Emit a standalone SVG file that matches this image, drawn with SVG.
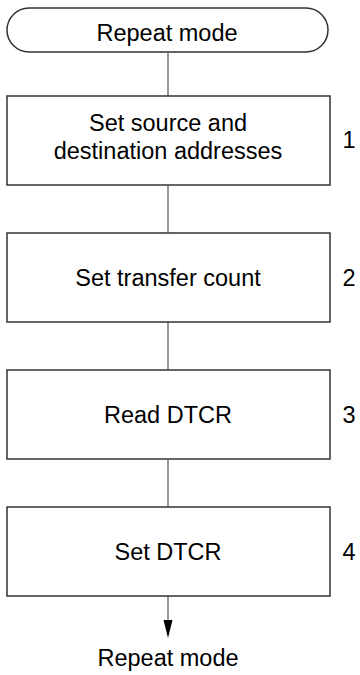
<svg xmlns="http://www.w3.org/2000/svg" width="360" height="675" viewBox="0 0 360 675">
<style>
.box{fill:#fff;stroke:#333;stroke-width:1.5}
.t{font-family:"Liberation Sans",Arial,sans-serif;font-size:23.5px;fill:#000;text-anchor:middle}
.n{font-family:"Liberation Sans",Arial,sans-serif;font-size:23.5px;fill:#000;text-anchor:middle}
.c{stroke:#777;stroke-width:1.5;fill:none}
</style>
<g id="connectors">
<line class="c" x1="168" y1="53" x2="168" y2="96"/>
<line class="c" x1="168" y1="185" x2="168" y2="233"/>
<line class="c" x1="168" y1="322" x2="168" y2="370"/>
<line class="c" x1="168" y1="459" x2="168" y2="507"/>
<line class="c" x1="168" y1="596" x2="168" y2="620"/>
<path d="M163.5,620 L172.5,620 L168,638 Z" fill="#000"/>
</g>
<g id="start">
<rect class="box" x="7" y="8" width="321" height="44" rx="22" ry="22"/>
<text class="t" x="167" y="41">Repeat mode</text>
</g>
<g id="step1">
<rect class="box" x="7" y="96" width="323" height="89"/>
<text class="t" x="168" y="131">Set source and</text>
<text class="t" x="168" y="159">destination addresses</text>
<text class="n" x="349" y="148">1</text>
</g>
<g id="step2">
<rect class="box" x="7" y="233" width="323" height="89"/>
<text class="t" x="168" y="286">Set transfer count</text>
<text class="n" x="349" y="286">2</text>
</g>
<g id="step3">
<rect class="box" x="7" y="370" width="323" height="89"/>
<text class="t" x="168" y="423">Read DTCR</text>
<text class="n" x="349" y="423">3</text>
</g>
<g id="step4">
<rect class="box" x="7" y="507" width="323" height="89"/>
<text class="t" x="168" y="560">Set DTCR</text>
<text class="n" x="349" y="560">4</text>
</g>
<g id="end">
<text class="t" x="168" y="666">Repeat mode</text>
</g>
</svg>
